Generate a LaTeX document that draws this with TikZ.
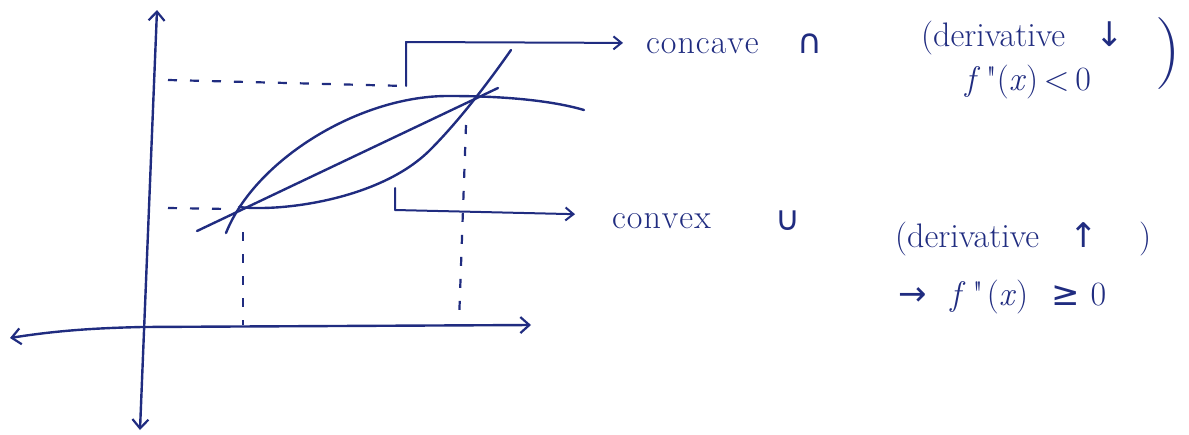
\documentclass[tikz,border=0pt]{standalone}
\usepackage{fontspec}
\newfontfamily\symfont{DejaVu Sans}
\usetikzlibrary{arrows.meta}
\definecolor{ink}{RGB}{32,44,128}
\tikzset{
  pen/.style={draw=ink, line width=2.4pt, line cap=round, line join=round},
  guide/.style={draw=ink, line width=2.2pt, dash pattern=on 9pt off 13pt},
  axis/.style={pen, {Straight Barb[length=9pt,width=16pt,line width=2.2pt]}-{Straight Barb[length=9pt,width=16pt,line width=2.2pt]}},
  pointer/.style={pen, line width=2pt, -{Straight Barb[length=8pt,width=13pt,line width=2pt]}},
  lbl/.style={text=ink, font=\fontsize{34}{38}\selectfont, inner sep=2pt}
}
\begin{document}
\begin{tikzpicture}[x=1pt,y=-1pt]
\useasboundingbox (0,0) rectangle (1189,434);
% axes
\coordinate (ytop) at (157,10);
\coordinate (ybot) at (140,430);
\coordinate (xleft) at (10,338);
\coordinate (orig) at (142,327);
\coordinate (xright) at (531,325);
\draw[axis] (ytop) -- (ybot);
\draw[axis] (xleft) .. controls (60,330) and (100,328) .. (orig) -- (xright);
% points
\coordinate (p1) at (239,207);
\coordinate (p2) at (473,97);
% curves
\draw[pen] (226,233) .. controls (255,160) and (360,95) .. (450,96) .. controls (500,96) and (550,100) .. (584,110);
\draw[pen] (p1) .. controls (280,212) and (380,200) .. (430,150) .. controls (460,120) and (490,80) .. (511,50);
\draw[pen] (197,231) -- (498,88);
% guides
\coordinate (gu) at (406,86);
\draw[guide] (168,80) -- (gu);
\draw[guide] (168,208) -- (228,209);
\draw[guide] (243,232) -- (243,325);
\draw[guide] (466,125) -- (459,322);
% labels
\node[lbl, anchor=base west] (concave) at (644,53) {c\kern1pt o\kern1pt n\kern1pt c\kern1pt a\kern1pt v\kern1pt e};
\node[lbl] (capsym) at (810,44) {\symfont ∩};
\node[lbl, anchor=base west] (deriv1) at (919,46) {(derivative\hspace{0.9em}{\symfont ↓}};
\node[text=ink, font=\fontsize{72}{72}\selectfont, inner sep=0pt] (rpar1) at (1168,54) {)};
\node[lbl, anchor=base] (fpp1) at (1028,90) {\textit{f}\,\textquotedbl(\textit{x})\,<\,0};
\node[lbl, anchor=base west] (convex) at (610,228) {c\kern1pt o\kern1pt n\kern1pt v\kern1pt e\kern1pt x};
\node[lbl] (cupsym) at (788,221) {\symfont ∪};
\node[lbl, anchor=base west] (deriv2) at (893,247) {(derivative\hspace{0.9em}{\symfont ↑}\hspace{1.2em})};
\node[lbl, anchor=base west] (fpp2) at (896,305) {{\symfont →}\hspace{0.7em}\textit{f}\hspace{0.2em}\textquotedbl\hspace{0.1em}(\textit{x})\hspace{0.7em}{\symfont ≥}\hspace{0.3em}0};
% bracket pointers
\draw[pointer, shorten >=21pt] (gu) -- (406,42) -- (concave.west |- 0,43);
\coordinate (gl) at (395,188);
\draw[pointer, shorten >=35pt] (gl) -- (395,210) -- (convex.west |- 0,215);
\end{tikzpicture}
\end{document}
